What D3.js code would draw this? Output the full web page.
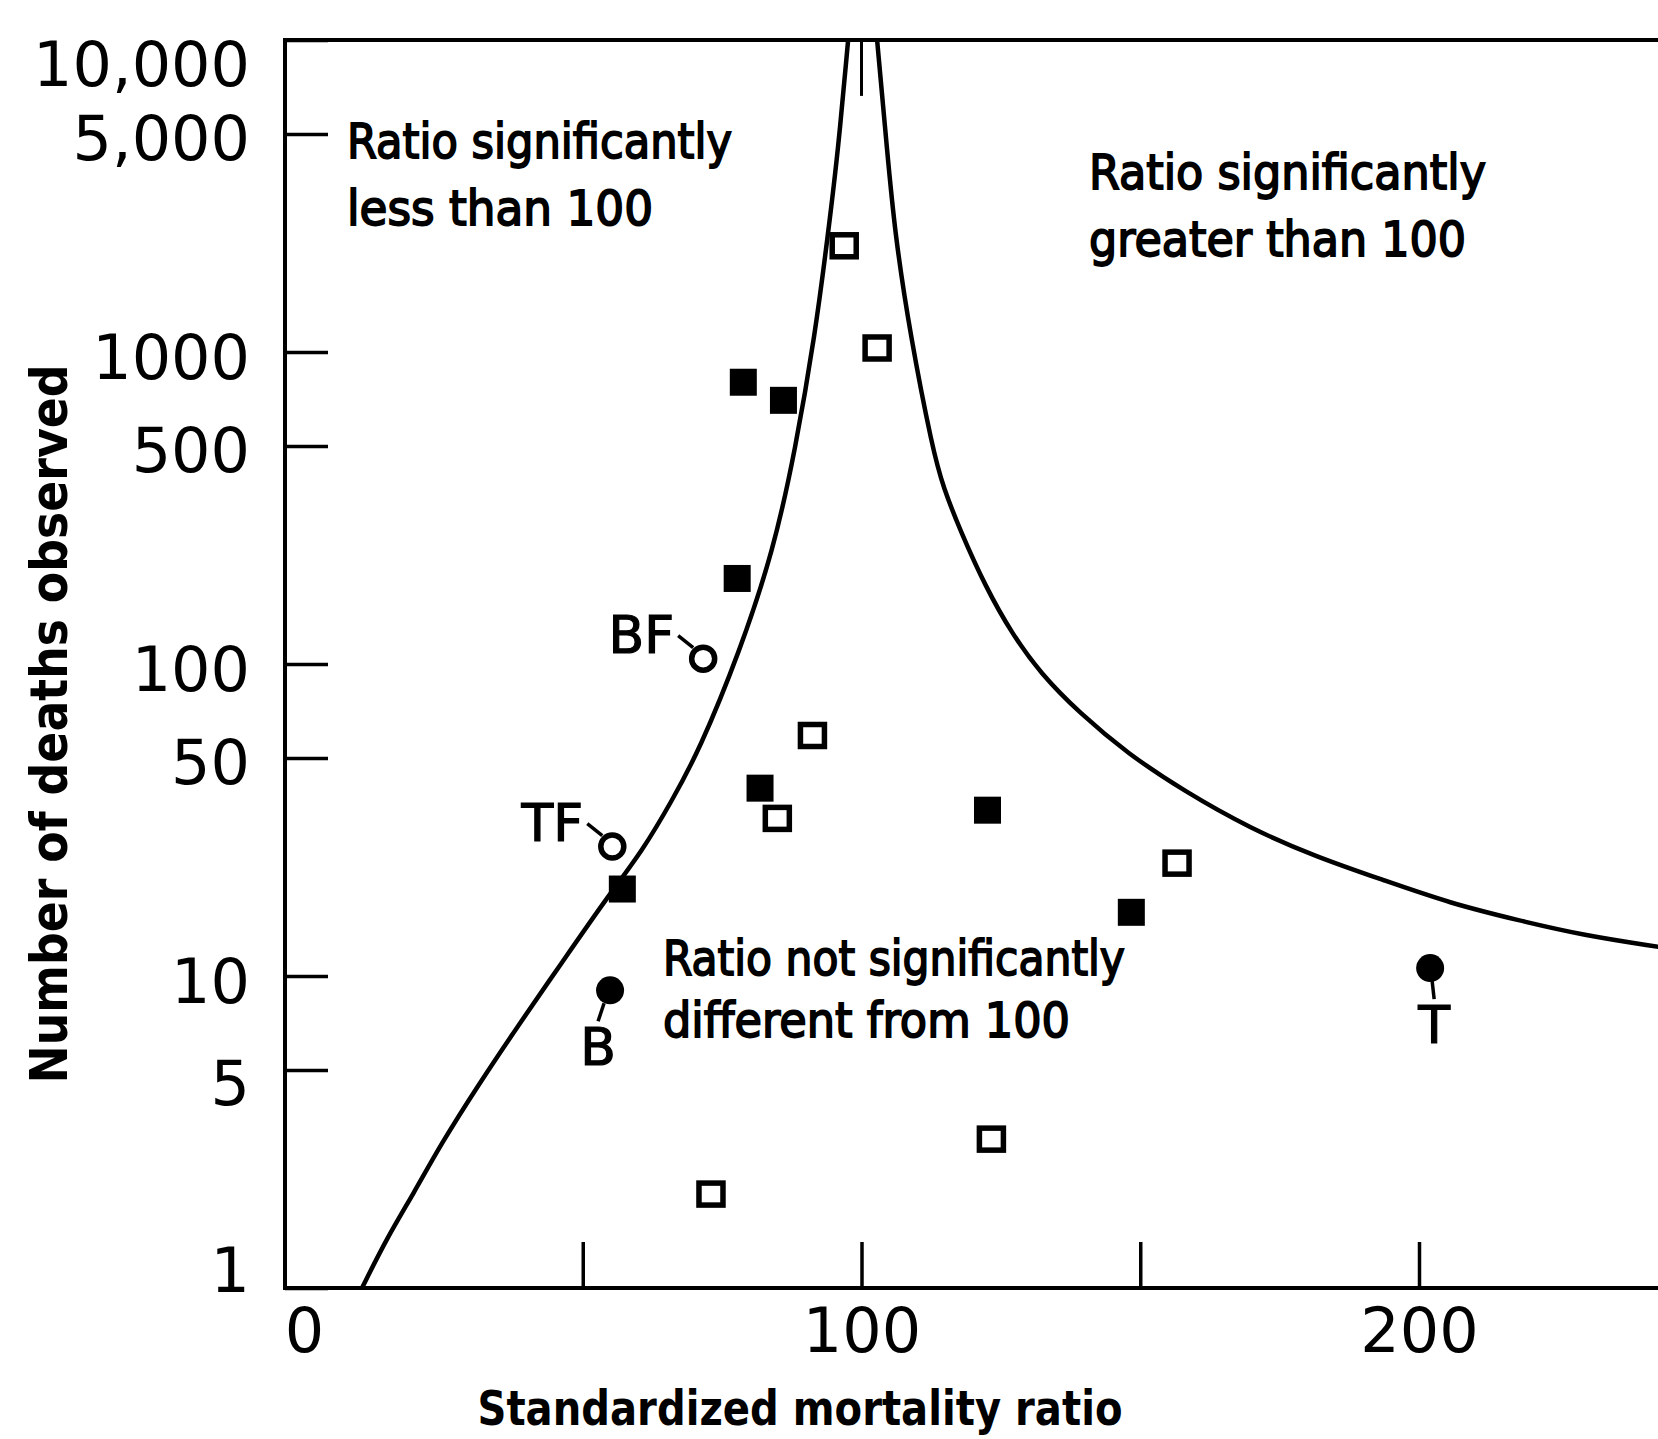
<!DOCTYPE html>
<html lang="en">
<head>
    <meta charset="utf-8"/>
    <title>SMR against number of deaths observed</title>
    <script src="https://d3js.org/d3.v7.min.js"></script>
    <style>
        body { margin: 0; background: #fff; }
        svg { display: block; background: #fff; }
        text { font-family: "DejaVu Sans", sans-serif; fill: #000; }
    </style>
</head>
<body>
<svg width="1658" height="1439"></svg>

<script type="text/javascript">

    // axis ticks
    const yTicks = [1, 5, 10, 50, 100, 500, 1000, 5000, 10000];
    const yTickLabels = ["1", "5", "10", "50", "100", "500", "1000", "5,000", "10,000"];
    const xTickMarks = [50, 100, 150, 200];
    const xTickLabels = [0, 100, 200];

    // limit curves: [SMR, deaths]
    const lowerLimit = [[10.4, 1], [15.0, 1.46], [19.6, 2.0], [24.6, 2.9], [31.0, 4.4], [38.2, 6.85],
        [46.5, 11.2], [54.4, 17.9], [60.8, 25.3], [66.0, 36.5], [70.9, 52.8], [78.2, 110], [84.2, 231],
        [88.1, 483], [91.7, 1143], [94.0, 2394], [95.8, 4413], [97.6, 10000]];
    const upperLimit = [[102.8, 10000], [104.6, 4413], [106.0, 2394], [108.7, 1143], [112.8, 483],
        [114.7, 367], [117.7, 268], [122.3, 176], [127.0, 125], [132.1, 93.3], [139.2, 69.4],
        [147.7, 51.7], [157.7, 39.3], [169.7, 29.7], [181.8, 24.0], [193.6, 20.3], [205.6, 17.1],
        [217.7, 15.1], [229.5, 13.5], [243, 12.4]];
    const centreLine = [[100, 10000], [100, 6620]];

    // observed points: [SMR, deaths]
    const openSquares = [[96.9, 2190], [102.8, 1030], [91.2, 59], [84.9, 32], [156.6, 23], [123.3, 3.0], [73.0, 2.0]];
    const filledSquares = [[78.8, 800], [86.0, 700], [77.7, 188], [81.8, 40], [122.6, 34], [57.1, 19], [148.4, 16]];
    // labelled points: [SMR, deaths, label]
    const openCircles = [[71.6, 104, "BF"], [55.3, 26, "TF"]];
    const filledCircles = [[54.9, 9.0, "B"], [202, 10.6, "T"]];

    const notes = [
        ["Ratio significantly", "less than 100"],
        ["Ratio significantly", "greater than 100"],
        ["Ratio not significantly", "different from 100"]
    ];

    const W = 1658, plotLeft = 285, plotTop = 40, plotBottom = 1288;

    const x = d3.scaleLinear().domain([0, 200]).range([304, 1419]);
    const y = d3.scaleLog().domain([1, 10000]).range([plotBottom, plotTop]);

    const svg = d3.select("svg");

    // clip for everything inside the frame
    svg.append("clipPath").attr("id", "plot")
        .append("rect")
        .attr("x", plotLeft).attr("y", plotTop)
        .attr("width", W - plotLeft).attr("height", plotBottom - plotTop);

    // y axis, ticks point inwards
    const gy = svg.append("g")
        .attr("transform", "translate(" + plotLeft + ",0)")
        .call(d3.axisLeft(y)
            .tickValues(yTicks)
            .tickFormat(d => yTickLabels[yTicks.indexOf(d)])
            .tickSize(-43)
            .tickPadding(35));
    gy.select(".domain").remove();
    gy.selectAll("line").attr("stroke", "#000").attr("stroke-width", 3.5);
    gy.selectAll("text")
        .style("font-size", "62px")
        .attr("fill", "#000")
        .attr("dy", d => d === 10000 ? "0.73em" : d === 1 ? "0.05em" : d === 5 ? "0.55em" : "0.42em");

    // x axis: tick marks and labels
    const gx = svg.append("g")
        .attr("transform", "translate(0," + plotBottom + ")")
        .call(d3.axisBottom(x).tickValues(xTickMarks).tickSize(-46).tickFormat(""));
    gx.select(".domain").remove();
    gx.selectAll("line").attr("stroke", "#000").attr("stroke-width", 3.5);

    const gxl = svg.append("g")
        .attr("transform", "translate(0," + plotBottom + ")")
        .call(d3.axisBottom(x).tickValues(xTickLabels).tickSize(0).tickPadding(20));
    gxl.select(".domain").remove();
    gxl.selectAll("line").remove();
    gxl.selectAll("text").style("font-size", "62px").attr("fill", "#000");

    // frame: top, left and bottom (right side runs off the page)
    svg.append("path")
        .attr("d", "M" + W + "," + plotTop + "H" + plotLeft + "V" + plotBottom + "H" + W)
        .attr("fill", "none")
        .attr("stroke", "#000")
        .attr("stroke-width", 4);

    // axis titles
    svg.append("text")
        .attr("transform", "translate(67,724) rotate(-90)")
        .attr("text-anchor", "middle")
        .attr("textLength", 719)
        .attr("lengthAdjust", "spacingAndGlyphs")
        .style("font-size", "52px")
        .style("font-weight", "bold")
        .text("Number of deaths observed");

    svg.append("text")
        .attr("x", 800).attr("y", 1425)
        .attr("text-anchor", "middle")
        .attr("textLength", 645)
        .attr("lengthAdjust", "spacingAndGlyphs")
        .style("font-size", "48px")
        .style("font-weight", "bold")
        .text("Standardized mortality ratio");

    // limit curves, smoothed through the read points
    const curveLine = d3.line()
        .x(d => x(d[0]))
        .y(d => y(d[1]))
        .curve(d3.curveBasis);

    const byDeathsDesc = c => c.slice().sort((a, b) => b[1] - a[1]);

    const curves = svg.append("g").attr("clip-path", "url(#plot)");
    [lowerLimit, upperLimit, centreLine].forEach(function (c, i) {
        curves.append("path")
            .attr("d", curveLine(byDeathsDesc(c)))
            .attr("fill", "none")
            .attr("stroke", "#000")
            .attr("stroke-width", i === 2 ? 3 : 4.5);
    });

    // region notes
    const notePos = [[347, 158, 385, 306], [1089, 189, 397, 377], [663, 975, 462, 407]];
    notes.forEach(function (lines, i) {
        const p = notePos[i];
        lines.forEach(function (t, j) {
            svg.append("text")
                .attr("x", p[0]).attr("y", p[1] + j * (i === 2 ? 62 : 67))
                .attr("textLength", p[2 + j])
                .attr("lengthAdjust", "spacingAndGlyphs")
                .attr("stroke", "#000")
                .attr("stroke-width", 1.8)
                .style("font-size", "48px")
                .text(t);
        });
    });

    // markers
    const marks = svg.append("g");

    marks.selectAll("rect.filled")
        .data(filledSquares).enter()
        .append("rect")
        .attr("class", "filled")
        .attr("x", d => x(d[0]) - 13.5)
        .attr("y", d => y(d[1]) - 13.5)
        .attr("width", 27).attr("height", 27)
        .attr("fill", "#000");

    marks.selectAll("rect.open")
        .data(openSquares).enter()
        .append("rect")
        .attr("class", "open")
        .attr("x", d => x(d[0]) - 12)
        .attr("y", d => y(d[1]) - 11)
        .attr("width", 24).attr("height", 22)
        .attr("fill", "#fff")
        .attr("stroke", "#000")
        .attr("stroke-width", 5.5);

    marks.selectAll("circle.open")
        .data(openCircles).enter()
        .append("circle")
        .attr("class", "open")
        .attr("cx", d => x(d[0]))
        .attr("cy", d => y(d[1]))
        .attr("r", 11.5)
        .attr("fill", "#fff")
        .attr("stroke", "#000")
        .attr("stroke-width", 5.5);

    marks.selectAll("circle.filled")
        .data(filledCircles).enter()
        .append("circle")
        .attr("class", "filled")
        .attr("cx", d => x(d[0]))
        .attr("cy", d => y(d[1]))
        .attr("r", 14)
        .attr("fill", "#000");

    // labels of the open circles sit up-left, with a short leader
    openCircles.forEach(function (d) {
        const cx = x(d[0]), cy = y(d[1]);
        marks.append("line")
            .attr("x1", cx - 25).attr("y1", cy - 23)
            .attr("x2", cx - 10).attr("y2", cy - 11)
            .attr("stroke", "#000").attr("stroke-width", 3.5);
        marks.append("text")
            .attr("x", cx - 29).attr("y", cy - 6)
            .attr("text-anchor", "end")
            .attr("stroke", "#000").attr("stroke-width", 1.2)
            .style("font-size", "52px")
            .text(d[2]);
    });

    // labels of the filled circles sit below; near the curve they lean left
    filledCircles.forEach(function (d) {
        const cx = x(d[0]), cy = y(d[1]);
        const lean = d[0] < 100 ? -12 : 4;
        marks.append("line")
            .attr("x1", cx + lean / 2).attr("y1", cy + 13)
            .attr("x2", cx + lean).attr("y2", cy + 31)
            .attr("stroke", "#000").attr("stroke-width", 3.5);
        marks.append("text")
            .attr("x", cx + lean).attr("y", cy + 75)
            .attr("text-anchor", "middle")
            .attr("stroke", "#000").attr("stroke-width", 1.2)
            .style("font-size", "52px")
            .text(d[2]);
    });

</script>
</body>
</html>
